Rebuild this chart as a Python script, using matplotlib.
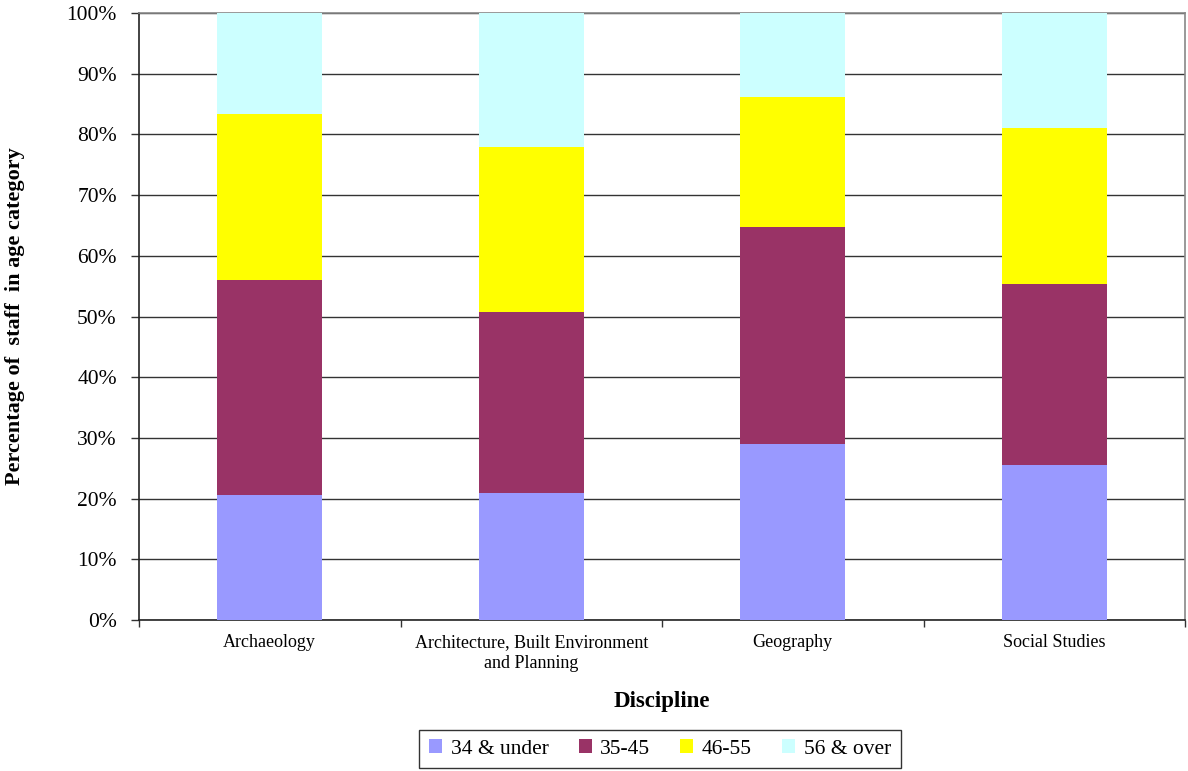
import numpy as np
import matplotlib.pyplot as plt
import matplotlib.ticker as ticker

# data (percent of staff)
disciplines = ['Archaeology', 'Architecture, Built Environment\nand Planning', 'Geography', 'Social Studies']
age_groups = ['34 & under', '35-45', '46-55', '56 & over']
under_34 = [20.6, 20.9, 29.0, 25.5]
age_35_45 = [35.4, 29.8, 35.7, 29.9]
age_46_55 = [27.4, 27.2, 21.5, 25.7]
over_56 = [16.6, 22.1, 13.8, 18.9]
colors = ['#9999FF', '#993366', '#FFFF00', '#CCFFFF']

plt.rcParams['font.family'] = ['Liberation Serif', 'DejaVu Serif']

fig = plt.figure(figsize=(11.88, 7.71), dpi=100)
ax = fig.add_axes([139 / 1188, 1 - 620 / 771, (1185 - 139) / 1188, (620 - 13) / 771])

x = np.arange(len(disciplines))
bottom = np.zeros(len(disciplines))
for name, vals, c in zip(age_groups, [under_34, age_35_45, age_46_55, over_56], colors):
    ax.bar(x, vals, width=0.4, bottom=bottom, color=c, label=name, zorder=3)
    bottom += np.array(vals)

ax.set_xlim(-0.5, len(disciplines) - 0.5)
ax.set_ylim(0, 100)
ax.yaxis.set_major_locator(ticker.MultipleLocator(10))
ax.yaxis.set_major_formatter(ticker.FuncFormatter(lambda v, p: f'{v:.0f}%'))
ax.grid(axis='y', color='#333333', linewidth=1, zorder=0)

ax.set_xticks(x)
ax.set_xticklabels(disciplines, fontsize=13, linespacing=1.3)
ax.xaxis.set_minor_locator(ticker.FixedLocator(np.arange(-0.5, len(disciplines), 1)))
ax.tick_params(axis='x', which='major', length=0, pad=10)
ax.tick_params(axis='x', which='minor', length=5, width=1, color='#333333')
ax.tick_params(axis='y', length=6, width=1, color='#333333', labelsize=15.5, pad=10)

for side in ['left', 'bottom']:
    ax.spines[side].set_color('#222222')
    ax.spines[side].set_linewidth(1.2)
for side in ['top', 'right']:
    ax.spines[side].set_color('#888888')
    ax.spines[side].set_linewidth(1.2)

ax.set_xlabel('Discipline', fontsize=16.5, fontweight='bold', labelpad=14)
ax.set_ylabel('Percentage of  staff  in age category', fontsize=16, fontweight='bold', labelpad=30)

leg = fig.legend(loc='center', bbox_to_anchor=(660 / 1188, 1 - 749 / 771), ncol=4, fontsize=15.5,
                 frameon=True, fancybox=False, edgecolor='black', handlelength=0.6, handleheight=0.6,
                 handletextpad=0.4, columnspacing=1.4, borderpad=0.45)
leg.get_frame().set_linewidth(1)

fig.savefig('out.png', dpi=100)
